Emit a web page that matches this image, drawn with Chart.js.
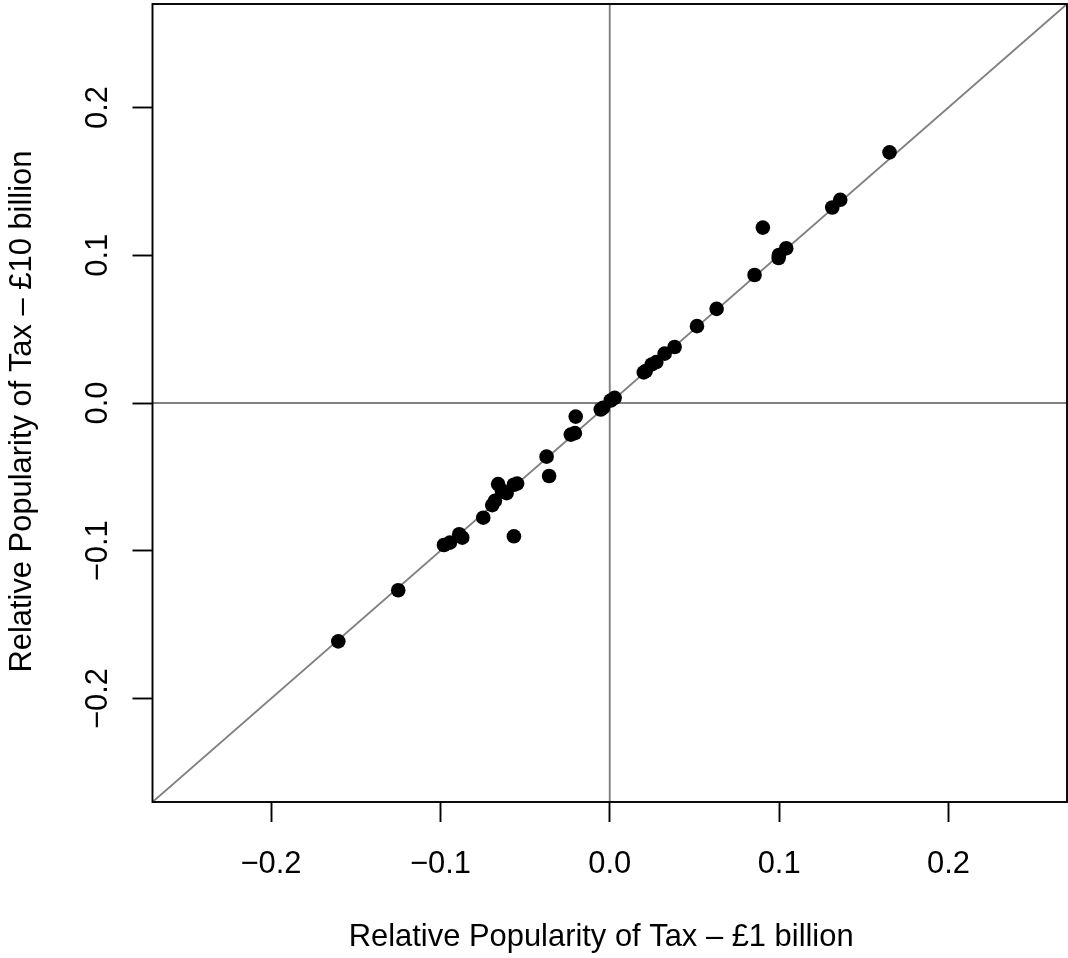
<!DOCTYPE html>
<html>
<head>
<meta charset="utf-8">
<script src="https://cdn.jsdelivr.net/npm/chart.js@4/dist/chart.umd.min.js"></script>
<style>
  html, body { margin: 0; padding: 0; background: #ffffff; }
  #wrap { width: 1068px; height: 958px; }
</style>
</head>
<body>
<div id="wrap"><canvas id="c" width="1068" height="958"></canvas></div>
<script>
// ---- data ----
const xVals = [0.1652, 0.1361, 0.1314, 0.0904, 0.1042, 0.0999, 0.0997, 0.0855, 0.0631, 0.0515,
               0.0383, 0.0324, 0.0275, 0.0248, 0.0212, 0.0201, 0.0029, 0.0006, -0.0040, -0.0053,
               -0.0201, -0.0206, -0.0230, -0.0373, -0.0358, -0.0547, -0.0566, -0.0659, -0.0609, -0.0637,
               -0.0678, -0.0694, -0.0747, -0.0566, -0.0889, -0.0871, -0.0944, -0.0979, -0.1249, -0.1603];
const yVals = [0.1696, 0.1375, 0.1323, 0.1187, 0.1047, 0.1002, 0.0981, 0.0866, 0.0637, 0.0520,
               0.0379, 0.0334, 0.0277, 0.0261, 0.0216, 0.0207, 0.0035, 0.0017, -0.0033, -0.0044,
               -0.0092, -0.0204, -0.0214, -0.0363, -0.0494, -0.0545, -0.0553, -0.0549, -0.0610, -0.0594,
               -0.0662, -0.0691, -0.0776, -0.0902, -0.0888, -0.0911, -0.0945, -0.0961, -0.1267, -0.1613];
const xTickVals = [-0.2, -0.1, 0.0, 0.1, 0.2];
const yTickVals = [-0.2, -0.1, 0.0, 0.1, 0.2];
const axisMin = -0.27;
const axisMax = 0.27;
const xTitle = 'Relative Popularity of Tax \u2013 \u00a31 billion';
const yTitle = 'Relative Popularity of Tax \u2013 \u00a310 billion';

// ---- styles ----
const FONT = { family: '"Liberation Sans", Arial, Helvetica, sans-serif', size: 30.9 };
const LW = 1.9;
const GRAY = '#808080';
const TITLE_SHIFT = '  '; // trailing spaces nudge centred titles toward their start, as in the reference

const fmt = v => (v < 0 ? '\u2212' : '') + Math.abs(v).toFixed(1);

const points = xVals.map((x, i) => ({ x: x, y: yVals[i] }));

const zeroPad = s => { s.paddingTop = 0; s.paddingBottom = 0; s.paddingLeft = 0; s.paddingRight = 0; };

const boxPlugin = {
  id: 'rbox',
  afterDraw(chart) {
    const a = chart.chartArea;
    const ctx = chart.ctx;
    ctx.save();
    ctx.strokeStyle = '#000000';
    ctx.lineWidth = LW;
    ctx.strokeRect(a.left, a.top, a.right - a.left, a.bottom - a.top);
    ctx.restore();
  }
};

new Chart(document.getElementById('c'), {
  type: 'scatter',
  data: {
    datasets: [
      {
        data: points,
        pointRadius: 7.3,
        pointHoverRadius: 7.3,
        pointBackgroundColor: '#000000',
        pointBorderWidth: 0,
        borderWidth: 0,
        order: 0
      },
      {
        data: [{ x: axisMin, y: axisMin }, { x: axisMax, y: axisMax }],
        showLine: true, borderColor: GRAY, borderWidth: LW, pointRadius: 0, order: 1
      },
      {
        data: [{ x: axisMin, y: 0 }, { x: axisMax, y: 0 }],
        showLine: true, borderColor: GRAY, borderWidth: LW, pointRadius: 0, order: 1
      },
      {
        data: [{ x: 0, y: axisMin }, { x: 0, y: axisMax }],
        showLine: true, borderColor: GRAY, borderWidth: LW, pointRadius: 0, order: 1
      }
    ]
  },
  options: {
    responsive: false,
    animation: false,
    devicePixelRatio: 1,
    layout: { autoPadding: false, padding: { top: 4, right: 1, left: 0, bottom: 0 } },
    plugins: { legend: { display: false }, tooltip: { enabled: false } },
    scales: {
      x: {
        type: 'linear',
        position: 'bottom',
        min: axisMin, max: axisMax,
        afterBuildTicks: s => { s.ticks = xTickVals.map(v => ({ value: v })); },
        afterFit: s => { s.height = 156; zeroPad(s); },
        grid: { drawOnChartArea: false, drawTicks: true, tickLength: 20, tickColor: '#000000', tickWidth: LW },
        border: { display: false },
        ticks: { autoSkip: false, maxRotation: 0, minRotation: 0, padding: 23.5, color: '#000000', font: FONT, callback: v => fmt(v) },
        title: { display: true, text: xTitle + TITLE_SHIFT, color: '#000000', font: FONT, padding: { top: 0, bottom: 1.5 } }
      },
      y: {
        type: 'linear',
        position: 'left',
        min: axisMin, max: axisMax,
        afterBuildTicks: s => { s.ticks = yTickVals.map(v => ({ value: v })); },
        afterFit: s => { s.width = 152.5; zeroPad(s); },
        grid: { drawOnChartArea: false, drawTicks: true, tickLength: 20, tickColor: '#000000', tickWidth: LW },
        border: { display: false },
        ticks: { autoSkip: false, minRotation: 90, maxRotation: 90, crossAlign: 'center', padding: 3.5, color: '#000000', font: FONT, callback: v => fmt(v) },
        title: { display: true, text: yTitle + TITLE_SHIFT, color: '#000000', font: FONT, padding: { top: 4.2, bottom: 0 } }
      }
    }
  },
  plugins: [boxPlugin]
});
</script>
</body>
</html>
